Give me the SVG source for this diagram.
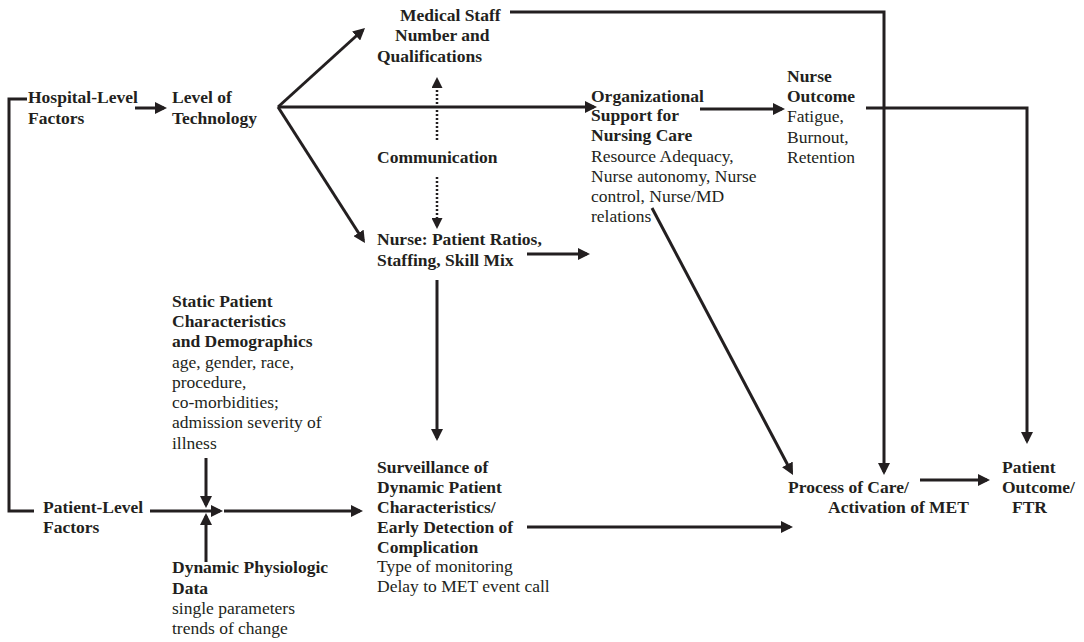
<svg xmlns="http://www.w3.org/2000/svg" width="1084" height="642" viewBox="0 0 1084 642">
  <defs>
    <style>
      text { font-family: "Liberation Serif", "Times New Roman", serif; font-size: 17.5px; fill: #231f20; }
      .b { font-weight: bold; }
      .ln { fill: none; stroke: #231f20; stroke-width: 3; }
      .arr { marker-end: url(#ah); }
      .dot { fill: none; stroke: #231f20; stroke-width: 2.5; stroke-dasharray: 2 2; }
    </style>
    <marker id="ah" markerUnits="userSpaceOnUse" markerWidth="12" markerHeight="12" refX="9" refY="6" orient="auto">
      <path d="M0,0 L12,6 L0,12 z" fill="#231f20"/>
    </marker>
    <marker id="ahs" markerUnits="userSpaceOnUse" markerWidth="11" markerHeight="11" refX="8" refY="5.5" orient="auto">
      <path d="M0,0 L11,5.5 L0,11 z" fill="#231f20"/>
    </marker>
  </defs>

  <rect width="1084" height="642" fill="#ffffff"/>

  <!-- connectors -->
  <g id="connectors">
    <!-- bracket joining hospital and patient levels -->
    <path class="ln" d="M27,99 H9 V511 H34"/>
    <!-- hospital-level to technology -->
    <path class="ln arr" d="M135,108 H164"/>
    <!-- technology fan-out -->
    <path class="ln arr" d="M278,107 L362.8,30"/>
    <path class="ln arr" d="M278,107 H594"/>
    <path class="ln arr" d="M278,107 L363.4,240.5"/>
    <!-- communication (dotted, both ways) -->
    <path class="dot" d="M437,140 V80" marker-end="url(#ahs)"/>
    <path class="dot" d="M437,177 V226" marker-end="url(#ahs)"/>
    <!-- medical staff to process of care -->
    <path class="ln arr" d="M510,12 H884 V472"/>
    <!-- organizational support to nurse outcome -->
    <path class="ln arr" d="M700,109 H782"/>
    <!-- nurse outcome to patient outcome -->
    <path class="ln arr" d="M866,108 H1027 V441"/>
    <!-- nurse staffing to organizational support -->
    <path class="ln arr" d="M527,254 H587"/>
    <!-- nurse staffing to surveillance -->
    <path class="ln arr" d="M437,280 V438"/>
    <!-- organizational support to process of care -->
    <path class="ln arr" d="M652,208 L791.6,472.3"/>
    <!-- patient-level inputs -->
    <path class="ln arr" d="M150,511 H220"/>
    <path class="ln arr" d="M224,511 H360"/>
    <path class="ln arr" d="M206,458 V505"/>
    <path class="ln arr" d="M206,562 V516"/>
    <!-- surveillance to process of care -->
    <path class="ln arr" d="M527,527 H790"/>
    <!-- process of care to patient outcome -->
    <path class="ln arr" d="M920,480 H987"/>
  </g>

  <g id="hospital-level">
    <text class="b" x="28" y="103">Hospital-Level</text>
    <text class="b" x="28" y="124">Factors</text>
  </g>

  <g id="technology">
    <text class="b" x="172" y="103">Level of</text>
    <text class="b" x="172" y="124">Technology</text>
  </g>

  <g id="medical-staff">
    <text class="b" x="400" y="21">Medical Staff</text>
    <text class="b" x="395" y="41">Number and</text>
    <text class="b" x="377" y="62">Qualifications</text>
  </g>

  <g id="communication">
    <text class="b" x="377" y="163">Communication</text>
  </g>

  <g id="nurse-staffing">
    <text class="b" x="377" y="245">Nurse: Patient Ratios,</text>
    <text class="b" x="377" y="266">Staffing, Skill Mix</text>
  </g>

  <g id="organizational-support">
    <text class="b" x="591" y="102">Organizational</text>
    <text class="b" x="591" y="121">Support for</text>
    <text class="b" x="591" y="141">Nursing Care</text>
    <text x="591" y="162">Resource Adequacy,</text>
    <text x="591" y="182">Nurse autonomy, Nurse</text>
    <text x="591" y="202">control, Nurse/MD</text>
    <text x="591" y="222">relations</text>
  </g>

  <g id="nurse-outcome">
    <text class="b" x="787" y="82">Nurse</text>
    <text class="b" x="787" y="102">Outcome</text>
    <text x="787" y="122">Fatigue,</text>
    <text x="787" y="143">Burnout,</text>
    <text x="787" y="163">Retention</text>
  </g>

  <g id="static-patient">
    <text class="b" x="172" y="307">Static Patient</text>
    <text class="b" x="172" y="327">Characteristics</text>
    <text class="b" x="172" y="347">and Demographics</text>
    <text x="172" y="368">age, gender, race,</text>
    <text x="172" y="388">procedure,</text>
    <text x="172" y="408">co-morbidities;</text>
    <text x="172" y="428">admission severity of</text>
    <text x="172" y="449">illness</text>
  </g>

  <g id="patient-level">
    <text class="b" x="43" y="513">Patient-Level</text>
    <text class="b" x="43" y="533">Factors</text>
  </g>

  <g id="dynamic-data">
    <text class="b" x="172" y="573">Dynamic Physiologic</text>
    <text class="b" x="172" y="594">Data</text>
    <text x="172" y="614">single parameters</text>
    <text x="172" y="634">trends of change</text>
  </g>

  <g id="surveillance">
    <text class="b" x="377" y="473">Surveillance of</text>
    <text class="b" x="377" y="493">Dynamic Patient</text>
    <text class="b" x="377" y="513">Characteristics/</text>
    <text class="b" x="377" y="533">Early Detection of</text>
    <text class="b" x="377" y="553">Complication</text>
    <text x="377" y="572">Type of monitoring</text>
    <text x="377" y="592">Delay to MET event call</text>
  </g>

  <g id="process-of-care">
    <text class="b" x="788" y="493">Process of Care/</text>
    <text class="b" x="828" y="513">Activation of MET</text>
  </g>

  <g id="patient-outcome">
    <text class="b" x="1002" y="473">Patient</text>
    <text class="b" x="1002" y="493">Outcome/</text>
    <text class="b" x="1012" y="513">FTR</text>
  </g>
</svg>
